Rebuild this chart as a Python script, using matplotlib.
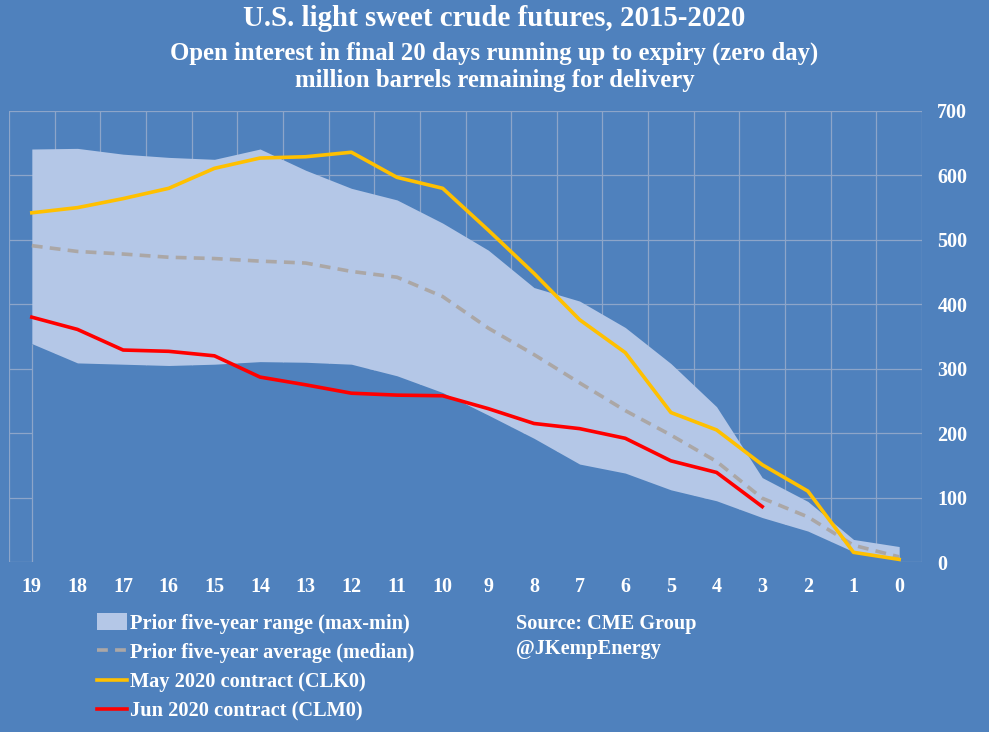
import numpy as np
import matplotlib.pyplot as plt
from matplotlib.patches import Patch
from matplotlib.lines import Line2D

# days to expiry
days = [19, 18, 17, 16, 15, 14, 13, 12, 11, 10, 9, 8, 7, 6, 5, 4, 3, 2, 1, 0]

# prior five-year range (million barrels)
range_max = [641, 642, 633, 628, 625, 641, 608, 580, 562, 526, 484, 426, 405, 364, 308, 241, 131, 94, 35, 24]
range_min = [339, 309, 307, 305, 307, 311, 310, 307, 289, 263, 228, 192, 152, 138, 112, 95, 69, 48, 16, 3]
median = [491, 482, 478, 473, 471, 467, 464, 451, 442, 412, 363, 322, 278, 235, 197, 156, 99, 70, 26, 8]

# contracts
may_days = [19, 18, 17, 16, 15, 14, 13, 12, 11, 10, 9, 8, 7, 6, 5, 4, 3, 2, 1, 0]
may_2020 = [542, 550, 564, 580, 611, 627, 629, 636, 597, 580, 515, 448, 376, 325, 232, 205, 151, 110, 15, 4]
jun_days = [19, 18, 17, 16, 15, 14, 13, 12, 11, 10, 9, 8, 7, 6, 5, 4, 3]
jun_2020 = [380, 361, 329, 327, 320, 287, 275, 262, 259, 258, 238, 215, 207, 192, 157, 139, 86]

y_ticks = [0, 100, 200, 300, 400, 500, 600, 700]

BG = '#4F81BD'
LIGHT = '#B4C7E7'
GRID = '#8DA5C9'
serif = 'Liberation Serif'

fig = plt.figure(figsize=(9.89, 7.32), dpi=100, facecolor=BG)
ax = fig.add_axes([9/989, 170/732, 913/989, 451/732])
ax.set_facecolor(BG)

# gridlines between categories and at each 100
for x in np.arange(19.5, -1, -1):
    ax.axvline(x, color=GRID, lw=0.9, zorder=1)
for y in y_ticks:
    ax.axhline(y, color=GRID, lw=0.9, zorder=1)

# lower band hides the grid (same colour as background), then the range
ax.fill_between(days, 0, range_min, color=BG, lw=0, zorder=2)
ax.vlines(days[0], 0, range_min[0], color=GRID, lw=0.9, zorder=2.5)
ax.fill_between(days, range_min, range_max, color=LIGHT, lw=0, zorder=3)

ax.plot(days, median, color='#ABA7A6', lw=2.6, ls=(0, (3, 2)), zorder=4)
ax.plot(may_days, may_2020, color='#FFC000', lw=2.6, zorder=5)
ax.plot(jun_days, jun_2020, color='#FF0000', lw=2.6, zorder=6)

ax.set_xlim(19.5, -0.5)
ax.set_ylim(0, 700)
ax.set_xticks(days)
ax.set_xticklabels([str(d) for d in days])
ax.set_yticks(y_ticks)
ax.yaxis.tick_right()
ax.tick_params(length=0, colors='white', labelsize=14.5)
ax.tick_params(axis='x', pad=11)
ax.tick_params(axis='y', pad=11)
for lab in ax.get_xticklabels() + ax.get_yticklabels():
    lab.set_fontfamily(serif)
    lab.set_fontweight('bold')
for s in ax.spines.values():
    s.set_visible(False)

# titles
fig.text(0.5, 1 - 18/732, 'U.S. light sweet crude futures, 2015-2020', ha='center', va='center',
         color='white', fontsize=20.8, fontweight='bold', family=serif)
fig.text(0.5, 1 - 53/732, 'Open interest in final 20 days running up to expiry (zero day)', ha='center',
         va='center', color='white', fontsize=17.8, fontweight='bold', family=serif)
fig.text(0.5, 1 - 81/732, 'million barrels remaining for delivery', ha='center', va='center',
         color='white', fontsize=17.8, fontweight='bold', family=serif)

handles = [Patch(facecolor=LIGHT, edgecolor='none'),
           Line2D([], [], color='#ABA7A6', lw=2.6, ls=(0, (3, 2))),
           Line2D([], [], color='#FFC000', lw=2.6),
           Line2D([], [], color='#FF0000', lw=2.6)]
labels = ['Prior five-year range (max-min)', 'Prior five-year average (median)',
          'May 2020 contract (CLK0)', 'Jun 2020 contract (CLM0)']
leg = fig.legend(handles, labels, loc='upper left', bbox_to_anchor=(89/989, 1 - 605/732),
                 frameon=False, handlelength=1.45, handleheight=0.9, handletextpad=0.15,
                 labelspacing=0.43, borderaxespad=0,
                 prop={'family': serif, 'weight': 'bold', 'size': 14.7})
for t in leg.get_texts():
    t.set_color('white')

fig.text(516/989, 1 - 624/732, 'Source: CME Group', ha='left', va='center', color='white',
         fontsize=14.6, fontweight='bold', family=serif)
fig.text(516/989, 1 - 649/732, '@JKempEnergy', ha='left', va='center', color='white',
         fontsize=14.6, fontweight='bold', family=serif)

fig.savefig('out.png', dpi=100, facecolor=BG)
